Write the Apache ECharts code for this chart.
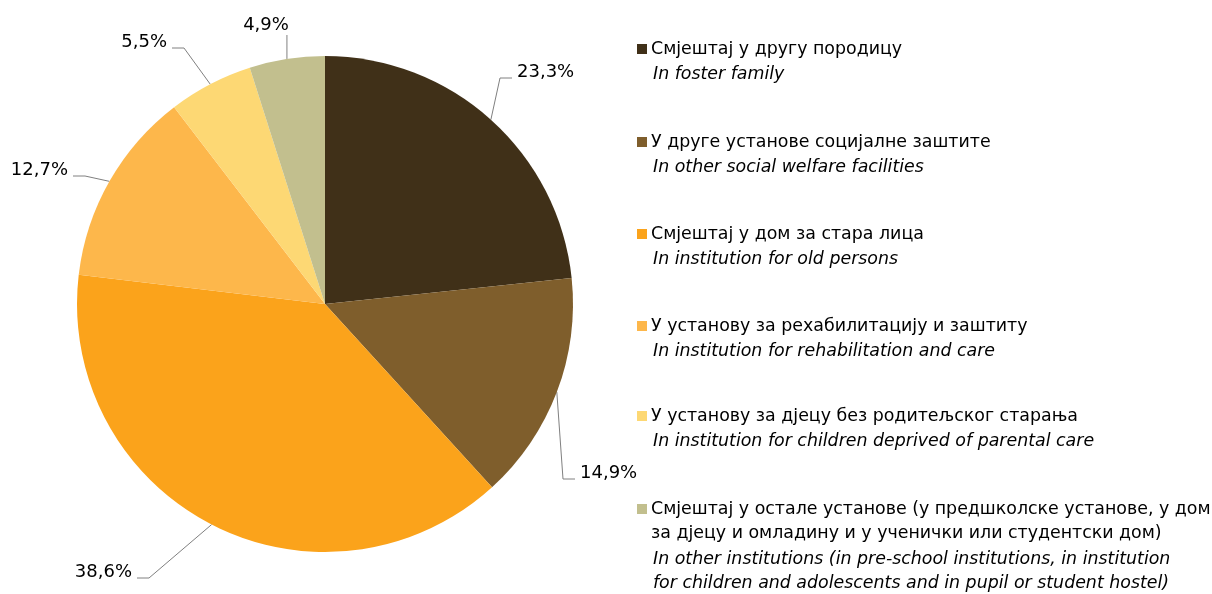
<!DOCTYPE html>
<html>
<head>
<meta charset="utf-8">
<script src="https://cdn.jsdelivr.net/npm/echarts@6/dist/echarts.min.js"></script>
<style>
  html, body { margin: 0; padding: 0; background: #fff; }
  #chart { width: 1212px; height: 594px; }
</style>
</head>
<body>
<div id="chart"></div>
<script>
const namesRu = [
  'Смјештај у другу породицу',
  'У друге установе социјалне заштите',
  'Смјештај у дом за стара лица',
  'У установу за рехабилитацију и заштиту',
  'У установу за дјецу без родитељског старања',
  'Смјештај у остале установе (у предшколске установе, у дом\nза дјецу и омладину и у ученички или студентски дом)',
]
const namesEn = [
  'In foster family',
  'In other social welfare facilities',
  'In institution for old persons',
  'In institution for rehabilitation and care',
  'In institution for children deprived of parental care',
  'In other institutions (in pre-school institutions, in institution\nfor children and adolescents and in pupil or student hostel)',
]
const shares = [23.3, 14.9, 38.6, 12.7, 5.5, 4.9]
const colors = ['#403018', '#7F5E2C', '#FBA31B', '#FDB74B', '#FDD874', '#C2BF8E']

const FONT = '"DejaVu Sans", "Liberation Sans", sans-serif'
const LINE_H = 24.5

// where the percentage labels sit (Excel-style, placed by hand around the pie)
const labelSpots = [
  { x: 517, y: 72, side: 'left' },
  { x: 580, y: 473, side: 'left' },
  { x: 132, y: 572, side: 'right' },
  { x: 68, y: 170, side: 'right' },
  { x: 167, y: 42, side: 'right' },
  { x: 266, y: 25, side: 'up' },
]

const chart = echarts.init(document.getElementById('chart'), null, { renderer: 'canvas' })

// legend drawn as graphic so the swatch sits on the first line
const legendTop = [37, 130, 222, 314, 404, 497]
const legendGraphic = []
namesRu.forEach((name, i) => {
  const y = legendTop[i]
  legendGraphic.push({
    type: 'rect',
    shape: { x: 637, y: y + 7, width: 10, height: 10 },
    style: { fill: colors[i] },
  })
  const ruLines = name.split('\n').length
  legendGraphic.push({
    type: 'text',
    x: 651,
    y: y,
    style: { text: name, font: '17.4px ' + FONT, fill: '#000', lineHeight: LINE_H },
  })
  legendGraphic.push({
    type: 'text',
    x: 653,
    y: y + ruLines * LINE_H + 1,
    style: { text: namesEn[i], font: 'italic 17.4px ' + FONT, fill: '#000', lineHeight: LINE_H },
  })
})

chart.setOption({
  backgroundColor: '#fff',
  animation: false,
  graphic: legendGraphic,
  series: [
    {
      type: 'pie',
      center: [325, 304],
      radius: 248,
      startAngle: 90,
      clockwise: true,
      data: shares.map((v, i) => ({ name: namesRu[i], value: v, itemStyle: { color: colors[i] } })),
      label: {
        show: true,
        fontFamily: FONT,
        fontSize: 18,
        color: '#000',
        formatter: p => p.value.toFixed(1).replace('.', ',') + '%',
      },
      labelLine: {
        show: true,
        length: 20,
        length2: 12,
        lineStyle: { color: '#808080', width: 1 },
      },
      labelLayout(params) {
        const s = labelSpots[params.dataIndex]
        const edge = params.labelLinePoints ? params.labelLinePoints[0] : [s.x, s.y]
        if (s.side === 'up') {
          return {
            x: s.x, y: s.y, align: 'center', verticalAlign: 'middle',
            labelLinePoints: [edge, [edge[0], s.y + 10], [edge[0], s.y + 10]],
          }
        }
        const dir = s.side === 'left' ? -1 : 1
        const ly = s.y + 6
        return {
          x: s.x, y: s.y, align: s.side, verticalAlign: 'middle',
          labelLinePoints: [edge, [s.x + dir * 17, ly], [s.x + dir * 5, ly]],
        }
      },
      emphasis: { disabled: true },
    },
  ],
})
</script>
</body>
</html>
